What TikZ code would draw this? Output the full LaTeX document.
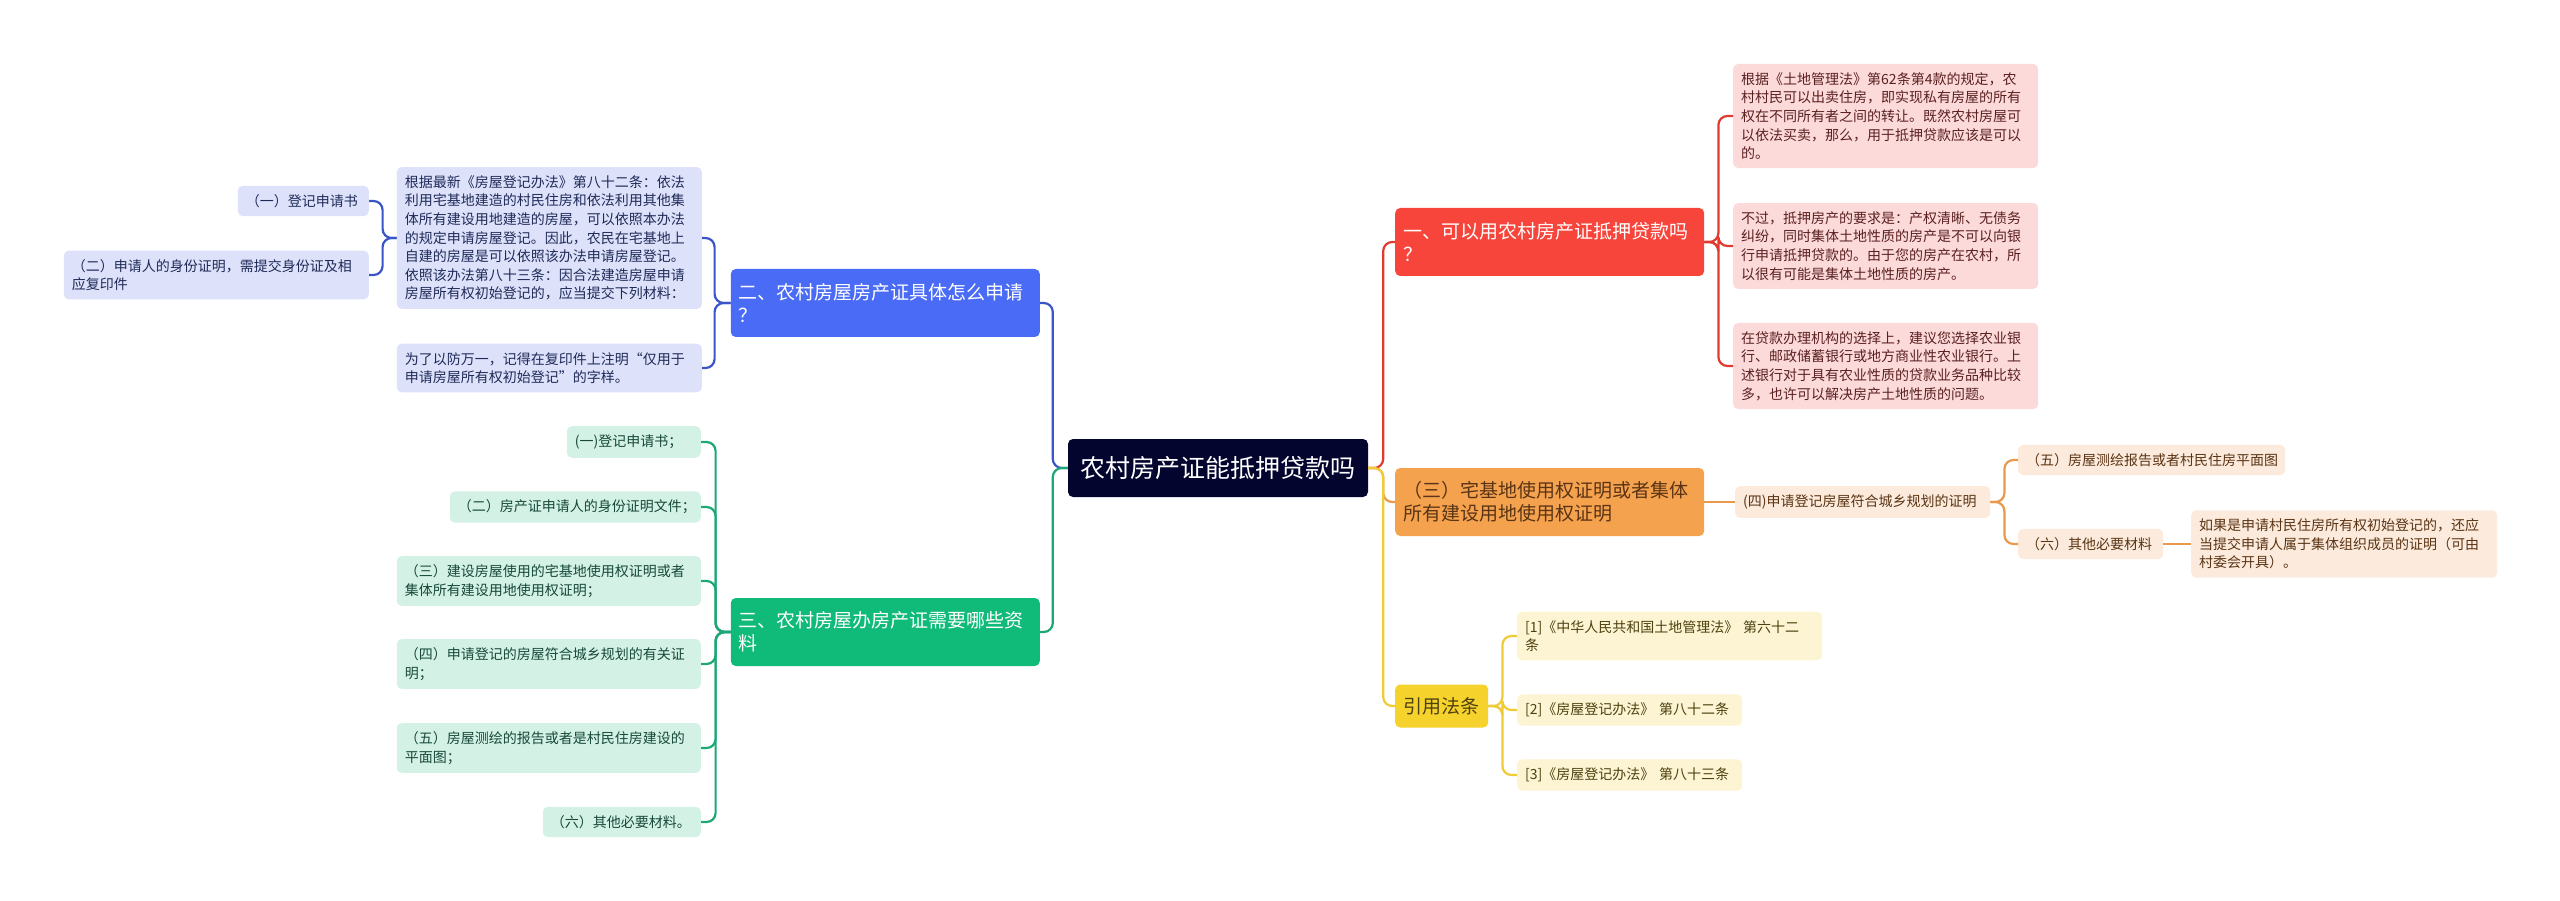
\documentclass[tikz,border=0pt]{standalone}
\usepackage{fontspec}
\setmainfont{Noto Sans CJK SC}
\usepackage{tikz}

\definecolor{cRoot}{HTML}{03052E}
\definecolor{cRed}{HTML}{F7453B}
\definecolor{cRedLine}{HTML}{E03A31}
\definecolor{cRedLeaf}{HTML}{FDDADA}
\definecolor{cRedText}{HTML}{5A2020}
\definecolor{cBlue}{HTML}{4A6BF5}
\definecolor{cBlueLine}{HTML}{3A55C8}
\definecolor{cBlueLeaf}{HTML}{DDE2FA}
\definecolor{cBlueText}{HTML}{1F2A58}
\definecolor{cGreen}{HTML}{10BA79}
\definecolor{cGreenLine}{HTML}{1BA874}
\definecolor{cGreenLeaf}{HTML}{D3F2E5}
\definecolor{cGreenText}{HTML}{17483A}
\definecolor{cOrange}{HTML}{F5A24F}
\definecolor{cOrangeLine}{HTML}{E8994C}
\definecolor{cOrangeLeaf}{HTML}{FCEBDC}
\definecolor{cOrangeText}{HTML}{5A3414}
\definecolor{cYellow}{HTML}{F5D22C}
\definecolor{cYellowLine}{HTML}{EFCB35}
\definecolor{cYellowLeaf}{HTML}{FDF4D3}
\definecolor{cYellowText}{HTML}{4D410F}

\newcommand{\leafsize}{\fontsize{14}{18.6}\selectfont}
\newcommand{\branchsize}{\fontsize{19}{23}\selectfont}
\newcommand{\rootsize}{\fontsize{25}{30}\selectfont}

\begin{document}
\begin{tikzpicture}[
        x=1pt, y=-1pt,
        box/.style={rounded corners=5pt, align=left, inner xsep=8pt},
        leaf/.style={box, font=\leafsize, inner ysep=8.5pt},
        main/.style={box, font=\branchsize, text width=293pt, minimum height=68pt},
        rootnode/.style={box, fill=cRoot, text=white, font=\rootsize, align=center, minimum width=300pt, minimum height=58pt},
        redmain/.style={main, fill=cRed, text=white},
        bluemain/.style={main, fill=cBlue, text=white},
        greenmain/.style={main, fill=cGreen, text=white},
        orangemain/.style={main, fill=cOrange, text=cOrangeText},
        yellowmain/.style={box, font=\branchsize, fill=cYellow, text=cYellowText, minimum width=93pt, minimum height=43pt, align=center},
        redleaf/.style={leaf, fill=cRedLeaf, text=cRedText},
        blueleaf/.style={leaf, fill=cBlueLeaf, text=cBlueText},
        greenleaf/.style={leaf, fill=cGreenLeaf, text=cGreenText},
        orangeleaf/.style={leaf, fill=cOrangeLeaf, text=cOrangeText},
        yellowleaf/.style={leaf, fill=cYellowLeaf, text=cYellowText},
        link/.style={line width=2.2pt, rounded corners=9pt},
        redlink/.style={link, draw=cRedLine},
        bluelink/.style={link, draw=cBlueLine},
        greenlink/.style={link, draw=cGreenLine},
        orangelink/.style={link, draw=cOrangeLine},
        yellowlink/.style={link, draw=cYellowLine}
    ]
    \fill[white] (0,0) rectangle (2560,901);
    \useasboundingbox (0,0) rectangle (2560,901);

    % root
    \node[rootnode] (root) at (1218,468) {农村房产证能抵押贷款吗};

    % right side branches
    \node[redmain, anchor=west] (q1) at (1395,242) {一、可以用农村房产证抵押贷款吗\\？};
    \node[orangemain, anchor=west] (zjd) at (1395,502) {（三）宅基地使用权证明或者集体\\所有建设用地使用权证明};
    \node[yellowmain, anchor=west] (law) at (1395,706) {引用法条};

    % left side branches
    \node[bluemain, anchor=east] (q2) at (1040,303) {二、农村房屋房产证具体怎么申请\\？};
    \node[greenmain, anchor=east] (q3) at (1040,632) {三、农村房屋办房产证需要哪些资\\料};

    % answers to q1
    \node[redleaf, text width=289pt, anchor=west] (r1) at (1733,116) {根据《土地管理法》第62条第4款的规定，农\\村村民可以出卖住房，即实现私有房屋的所有\\权在不同所有者之间的转让。既然农村房屋可\\以依法买卖，那么，用于抵押贷款应该是可以\\的。};
    \node[redleaf, text width=289pt, anchor=west] (r2) at (1733,246) {不过，抵押房产的要求是：产权清晰、无债务\\纠纷，同时集体土地性质的房产是不可以向银\\行申请抵押贷款的。由于您的房产在农村，所\\以很有可能是集体土地性质的房产。};
    \node[redleaf, text width=289pt, anchor=west] (r3) at (1733,366) {在贷款办理机构的选择上，建议您选择农业银\\行、邮政储蓄银行或地方商业性农业银行。上\\述银行对于具有农业性质的贷款业务品种比较\\多，也许可以解决房产土地性质的问题。};

    % orange chain
    \node[orangeleaf, text width=239pt, anchor=west] (o4) at (1735,502) {(四)申请登记房屋符合城乡规划的证明};
    \node[orangeleaf, text width=251pt, anchor=west] (o5) at (2018,460) {（五）房屋测绘报告或者村民住房平面图};
    \node[orangeleaf, text width=129pt, anchor=west] (o6) at (2018,544) {（六）其他必要材料};
    \node[orangeleaf, text width=290pt, anchor=west] (o6a) at (2191,544) {如果是申请村民住房所有权初始登记的，还应\\当提交申请人属于集体组织成员的证明（可由\\村委会开具）。};

    % laws
    \node[yellowleaf, text width=289pt, anchor=west] (y1) at (1517,636) {[1]《中华人民共和国土地管理法》 第六十二\\条};
    \node[yellowleaf, text width=209pt, anchor=west] (y2) at (1517,710) {[2]《房屋登记办法》 第八十二条};
    \node[yellowleaf, text width=209pt, anchor=west] (y3) at (1517,775) {[3]《房屋登记办法》 第八十三条};

    % answers to q2
    \node[blueleaf, text width=289pt, anchor=east] (b1) at (702,238) {根据最新《房屋登记办法》第八十二条：依法\\利用宅基地建造的村民住房和依法利用其他集\\体所有建设用地建造的房屋，可以依照本办法\\的规定申请房屋登记。因此，农民在宅基地上\\自建的房屋是可以依照该办法申请房屋登记。\\依照该办法第八十三条：因合法建造房屋申请\\房屋所有权初始登记的，应当提交下列材料：};
    \node[blueleaf, text width=289pt, anchor=east] (b2) at (702,368) {为了以防万一，记得在复印件上注明“仅用于\\申请房屋所有权初始登记”的字样。};
    \node[blueleaf, text width=115pt, anchor=east] (bb1) at (369,201) {（一）登记申请书};
    \node[blueleaf, text width=289pt, anchor=east] (bb2) at (369,275) {（二）申请人的身份证明，需提交身份证及相\\应复印件};

    % answers to q3
    \node[greenleaf, text width=118pt, anchor=east] (g1) at (701,442) {(一)登记申请书；};
    \node[greenleaf, text width=235pt, anchor=east] (g2) at (701,507) {（二）房产证申请人的身份证明文件；};
    \node[greenleaf, text width=288pt, anchor=east] (g3) at (701,581) {（三）建设房屋使用的宅基地使用权证明或者\\集体所有建设用地使用权证明；};
    \node[greenleaf, text width=288pt, anchor=east] (g4) at (701,664) {（四）申请登记的房屋符合城乡规划的有关证\\明；};
    \node[greenleaf, text width=288pt, anchor=east] (g5) at (701,748) {（五）房屋测绘的报告或者是村民住房建设的\\平面图；};
    \node[greenleaf, text width=142pt, anchor=east] (g6) at (701,822) {（六）其他必要材料。};

    % links from root
    \draw[orangelink] (root.east) -- ++(15,0) |- (zjd.west);
    \draw[redlink] (root.east) -- ++(15,0) |- (q1.west);
    \draw[yellowlink] (root.east) -- ++(15,0) |- (law.west);
    \draw[bluelink] (root.west) -- ++(-15,0) |- (q2.east);
    \draw[greenlink] (root.west) -- ++(-15,0) |- (q3.east);

    % links to leaves
    \foreach \n in {r1,r2,r3}
        \draw[redlink] (q1.east) -- ++(14,0) |- (\n.west);
    \draw[orangelink] (zjd.east) -- (o4.west);
    \foreach \n in {o5,o6}
        \draw[orangelink] (o4.east) -- ++(14,0) |- (\n.west);
    \draw[orangelink] (o6.east) -- (o6a.west);
    \foreach \n in {y1,y2,y3}
        \draw[yellowlink] (law.east) -- ++(14,0) |- (\n.west);
    \foreach \n in {b1,b2}
        \draw[bluelink] (q2.west) -- ++(-16,0) |- (\n.east);
    \foreach \n in {bb1,bb2}
        \draw[bluelink] (b1.west) -- ++(-14,0) |- (\n.east);
    \foreach \n in {g1,g2,g3,g4,g5,g6}
        \draw[greenlink] (q3.west) -- ++(-15,0) |- (\n.east);

\end{tikzpicture}
\end{document}
